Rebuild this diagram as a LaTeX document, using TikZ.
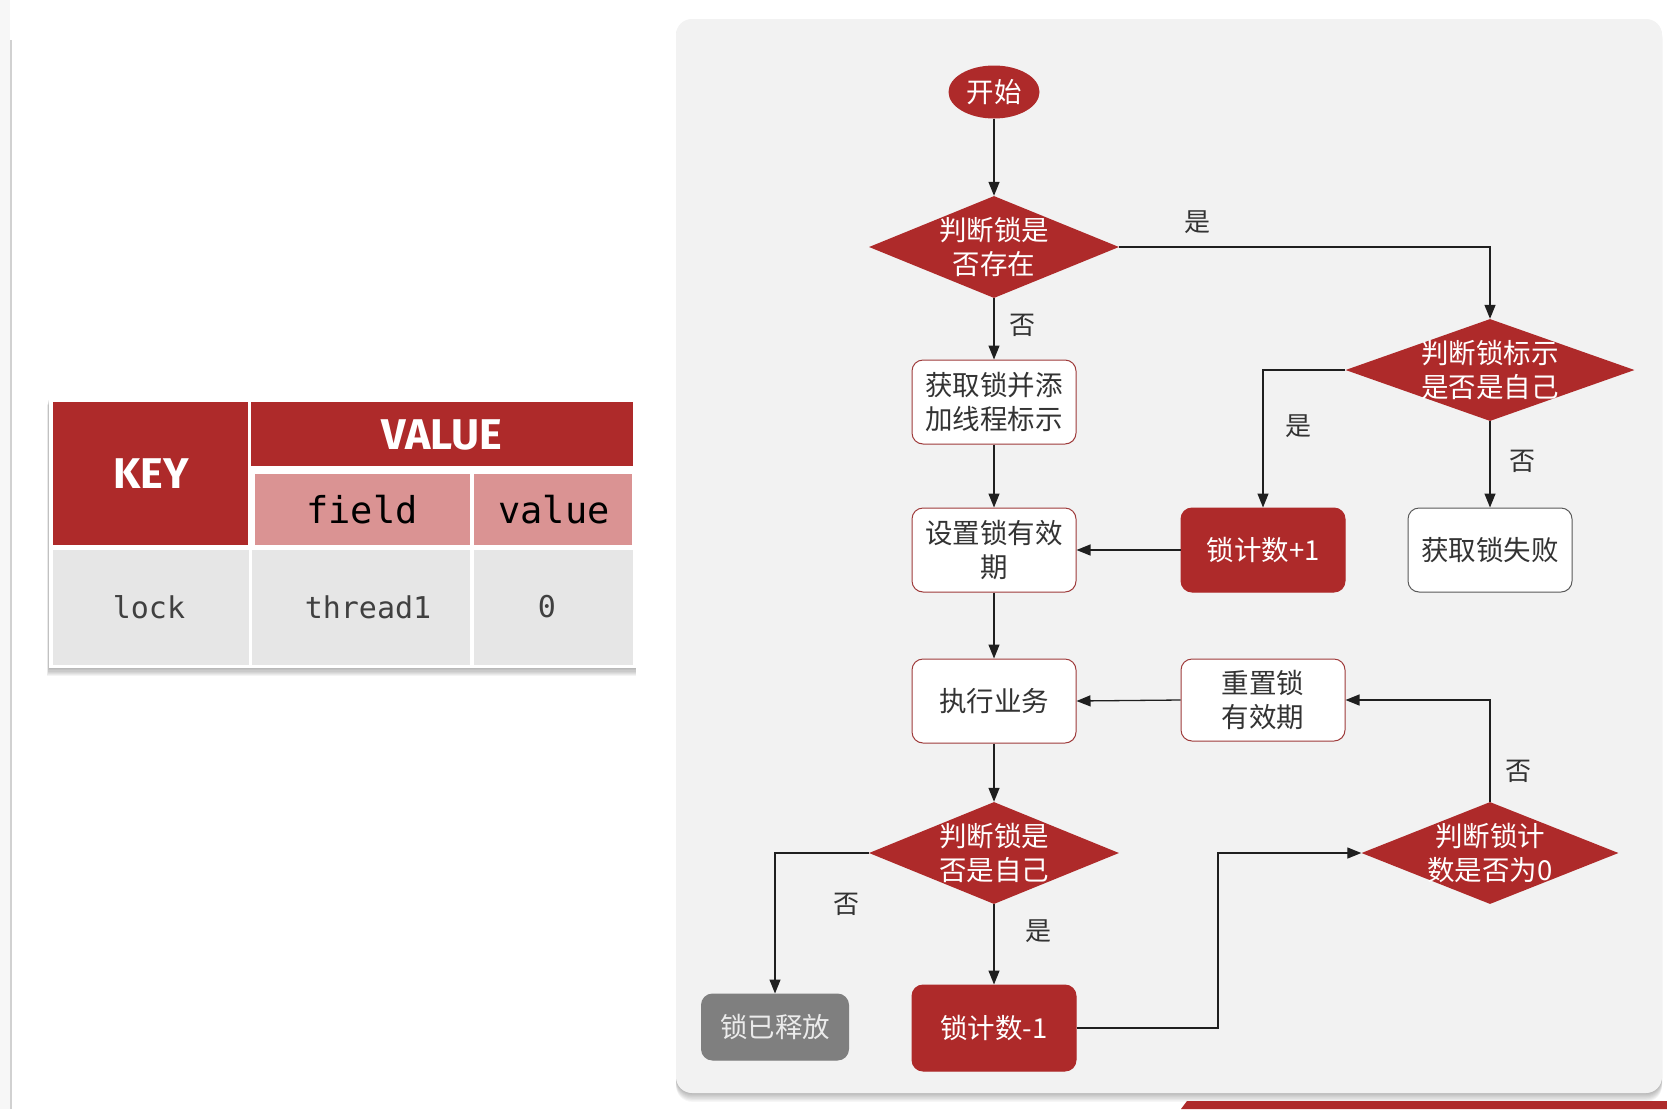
\documentclass[tikz,border=0pt]{standalone}
\usepackage{fontspec}
\newfontfamily\cjk{Noto Sans CJK SC}
\newfontfamily\monof{DejaVu Sans Mono}
\newfontfamily\hdrf{Fira Sans}
\usetikzlibrary{shapes.geometric,arrows.meta}
\definecolor{myred}{HTML}{AE2A2A}
\definecolor{pinkc}{HTML}{DA9393}
\definecolor{rowgray}{HTML}{E6E6E6}
\definecolor{panelc}{HTML}{F2F2F2}
\definecolor{boxline}{HTML}{9E3A3A}
\definecolor{txt}{HTML}{333333}
\definecolor{relgray}{HTML}{7F7F7F}
\tikzset{
  cjkfont/.style={font=\cjk\fontsize{27.5}{34}\selectfont},
  wbox/.style={rectangle, rounded corners=11pt, draw=boxline, line width=1pt, fill=white,
    minimum width=164pt, minimum height=84pt, cjkfont, text=txt, align=center, inner sep=0pt},
  rbox/.style={wbox, draw=myred, fill=myred, text=white},
  fbox/.style={wbox, draw=black!65},
  gbox/.style={wbox, draw=relgray, fill=relgray, text=black!8, minimum width=147pt, minimum height=66pt},
  dia/.style={diamond, fill=myred, inner sep=0pt, minimum width=250pt, minimum height=102pt},
  diatext/.style={cjkfont, text=white, align=center, inner sep=0pt},
  startnode/.style={ellipse, fill=myred, minimum width=91pt, minimum height=53pt, inner sep=0pt,
    cjkfont, text=white},
  arr/.style={-{Triangle[length=14pt,width=11pt]}, line width=1.3pt, draw=black!88},
  lab/.style={font=\cjk\fontsize{26}{26}\selectfont, text=black!80},
  hdr/.style={font=\hdrf\bfseries\fontsize{43}{43}\selectfont, text=white},
  subhdr/.style={font=\monof\fontsize{37}{37}\selectfont, text=black},
  cell/.style={font=\monof\fontsize{30}{30}\selectfont, text=black!75}
}
\begin{document}
\begin{tikzpicture}[x=1pt,y=-1pt]
\useasboundingbox (0,0) rectangle (1667,1109);
\fill[white] (0,0) rectangle (1667,1109);
\fill[black!3] (0,0) rectangle (10,1109);
\draw[black!18, line width=2pt] (11,40) -- (11,1109);

% ---------- table ----------
\foreach \i in {1,...,7} {
  \fill[black, opacity=0.045] (49-\i*0.3,398+\i) rectangle (636,668+\i*1.2);
}
\fill[white] (49,398) rectangle (636,668);
\fill[myred] (53,402) rectangle (248,545);
\fill[myred] (251,402) rectangle (633,466);
\fill[pinkc] (255,474) rectangle (470,545);
\fill[pinkc] (474,474) rectangle (632,545);
\fill[rowgray] (53,550) rectangle (249,665);
\fill[rowgray] (252,550) rectangle (470,665);
\fill[rowgray] (474,550) rectangle (633,665);
\node[hdr] (tkey) at (151,474) {KEY};
\node[hdr] (tval) at (442,435) {VALUE};
\node[subhdr] (tfield) at (362,510) {field};
\node[subhdr] (tvalue) at (554,510) {value};
\node[cell] (tlock) at (149,607) {lock};
\node[cell] (tthread) at (368,607) {thread1};
\node[cell] (tzero) at (547,607) {0};

% ---------- panel ----------
\foreach \i in {1,...,8} {
  \fill[black, opacity=0.035, rounded corners=16pt] (676,19+\i*0.5) rectangle (1662,1093+\i*1.1);
}
\fill[panelc, rounded corners=16pt] (676,19) rectangle (1662,1093);
\fill[myred] (1187,1101) -- (1667,1101) -- (1667,1109) -- (1181,1109) -- cycle;

% ---------- flowchart nodes ----------
\node[startnode] (start) at (994,92) {开始};
\node[dia] (d1) at (994,247) {};
\node[diatext] (d1t) at (d1) {判断锁是\\否存在};
\node[dia, minimum width=289pt] (d2) at (1490,370) {};
\node[diatext] (d2t) at (d2) {判断锁标示\\是否是自己};
\node[wbox] (b1) at (994,402) {获取锁并添\\加线程标示};
\node[rbox] (inc) at (1263,550) {锁计数+1};
\node[fbox] (fail) at (1490,550) {获取锁失败};
\node[wbox] (b2) at (994,550) {设置锁有效\\期};
\node[wbox] (exec) at (994,701) {执行业务};
\node[wbox, minimum height=82pt] (reset) at (1263,700) {重置锁\\有效期};
\node[dia] (d3) at (994,853) {};
\node[diatext] (d3t) at (d3) {判断锁是\\否是自己};
\node[dia, minimum width=257pt] (d4) at (1490,853) {};
\node[diatext] (d4t) at (d4) {判断锁计\\数是否为0};
\node[gbox] (rel) at (775,1027) {锁已释放};
\node[rbox, minimum height=86pt] (dec) at (994,1028) {锁计数-1};
\coordinate (mid) at (1218,853);

% ---------- connectors ----------
\draw[arr] (start.south) -- (d1.north);
\draw[arr] (d1.east) -| (d2.north);
\draw[arr] (d1.south) -- (b1.north);
\draw[arr] (d2.west) -| (inc.north);
\draw[arr] (d2.south) -- (fail.north);
\draw[arr] (b1.south) -- (b2.north);
\draw[arr] (inc.west) -- (b2.east);
\draw[arr] (b2.south) -- (exec.north);
\draw[arr] (reset.west) -- (exec.east);
\draw[arr] (exec.south) -- (d3.north);
\draw[arr] (d3.west) -| (rel.north);
\draw[arr] (d3.south) -- (dec.north);
\draw[arr] (dec.east) -| (mid) -- (d4.west);
\draw[arr] (d4.north) |- (reset.east);

% ---------- labels ----------
\node[lab] (l1) at (1197,222) {是};
\node[lab] (l2) at (1022,325) {否};
\node[lab] (l3) at (1298,426) {是};
\node[lab] (l4) at (1522,461) {否};
\node[lab] (l5) at (1518,771) {否};
\node[lab] (l6) at (846,904) {否};
\node[lab] (l7) at (1038,931) {是};
\end{tikzpicture}
\end{document}
